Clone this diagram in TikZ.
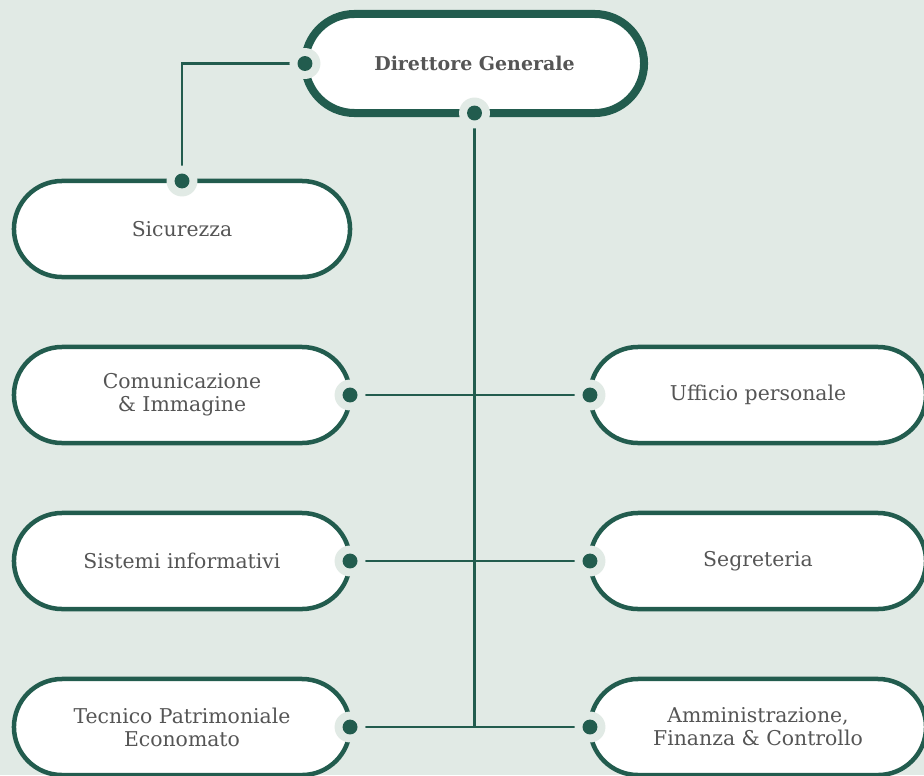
\documentclass[tikz,border=0pt]{standalone}
\usepackage{fontspec}
\setmainfont{DejaVu Serif}
\usepackage{tikz}
\usetikzlibrary{calc}
\definecolor{bgmint}{RGB}{225,234,229}
\definecolor{pine}{RGB}{34,92,78}
\definecolor{inkgray}{RGB}{85,85,85}
\def\unitnode{\node[unit]}
\def\headnode{\node[head]}
\begin{document}
\begin{tikzpicture}[x=0.025cm,y=-0.025cm,
  unit/.style={draw=pine,line width=3.2pt,fill=white,rounded corners=1.2cm,
    minimum width=8.4cm,minimum height=2.4cm,inner sep=0pt,outer sep=0pt,
    text=inkgray,align=center,font=\fontsize{14.5}{16.3}\selectfont},
  head/.style={unit,line width=5.7pt,rounded corners=1.2375cm,
    minimum width=8.475cm,minimum height=2.475cm,
    font=\bfseries\fontsize{13.5}{16.3}\selectfont},
  link/.style={draw=pine,line width=1.8pt}]
\fill[bgmint] (0,0) rectangle (924,775);
\useasboundingbox (0,0) rectangle (924,775);
\clip (0,0) rectangle (924,775);
\headnode (top) at (474.5,63.5) {Direttore Generale};
\unitnode (sic) at (182,229) {Sicurezza};
\unitnode (com) at (182,395) {Comunicazione\\\& Immagine};
\unitnode (sis) at (182,561) {Sistemi informativi};
\unitnode (tec) at (182,727) {Tecnico Patrimoniale\\Economato};
\unitnode (uff) at (758,395) {Ufficio personale};
\unitnode (seg) at (758,561) {Segreteria};
\unitnode (amm) at (758,727) {Amministrazione,\\Finanza \& Controllo};
\draw[link] (sic.north) |- (top.west);
\draw[link] (top.south) -- (tec.east -| top.south);
\draw[link] (com.east) -- (uff.west);
\draw[link] (sis.east) -- (seg.west);
\draw[link] (tec.east) -- (amm.west);
\foreach \a in {top.west,top.south,sic.north,com.east,sis.east,tec.east,uff.west,seg.west,amm.west}{
  \fill[bgmint] (\a) circle (11pt);
  \fill[pine] (\a) circle (5.3pt);
}
\end{tikzpicture}
\end{document}
